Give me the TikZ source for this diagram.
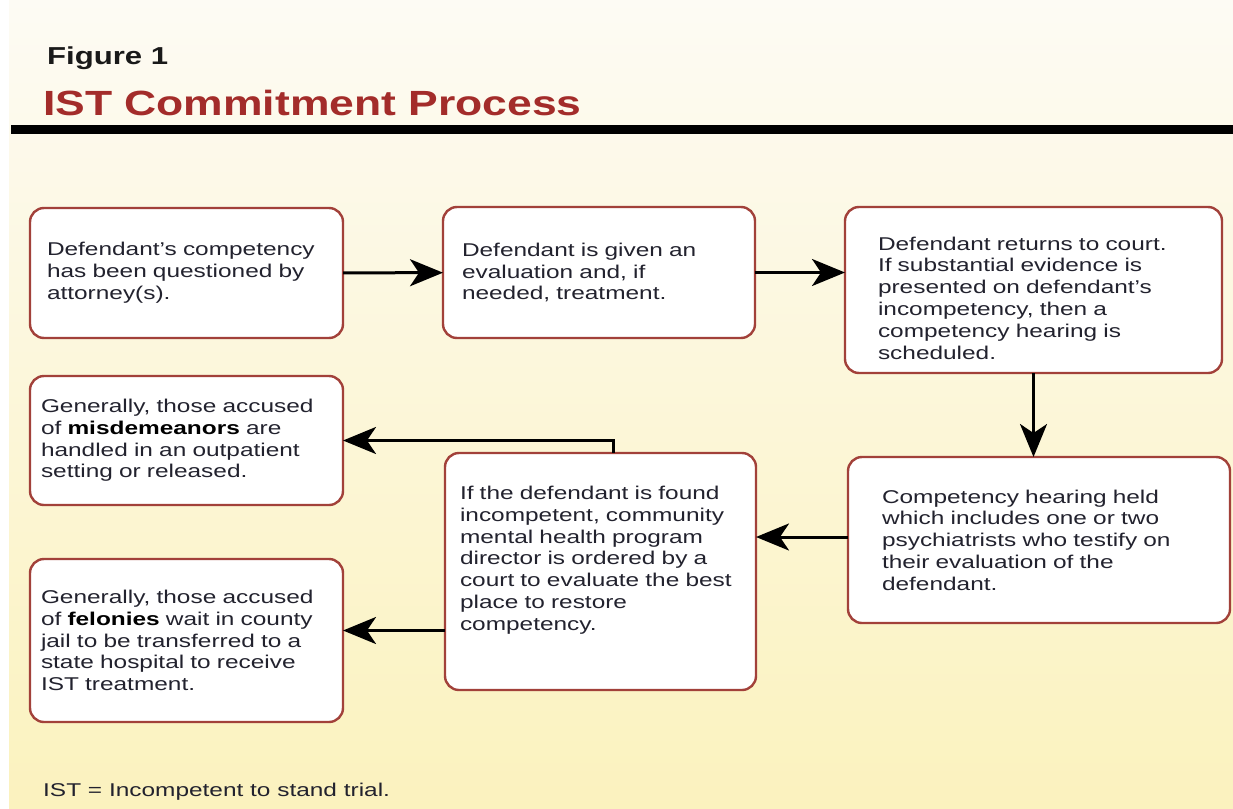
\documentclass[tikz,border=0pt]{standalone}
\usepackage{fontspec}
\setmainfont{Liberation Sans}[FakeStretch=1.32]
\newfontfamily\titulofont{Liberation Sans}[FakeStretch=1.27]
\usepackage{tikz}
\usetikzlibrary{arrows.meta}
\usepackage{xcolor}

\definecolor{borda}{HTML}{A2413A}
\definecolor{titulo}{HTML}{A32C2A}
\definecolor{texto}{HTML}{22222E}
\definecolor{fundotopo}{HTML}{FDFBF4}
\definecolor{fundobase}{HTML}{FBF2BE}

\tikzset{
  caixa/.style={draw=borda, line width=2.4pt, rounded corners=14pt, fill=white,
    anchor=north west, outer sep=0pt, inner ysep=0pt, align=left, text=texto,
    font=\fontsize{18.5}{21.8}\selectfont},
  seta/.style={-{Stealth[length=33pt,width=27pt,inset=9pt]}, line width=3pt},
}

\begin{document}
\begin{tikzpicture}[x=1pt, y=-1pt]
        \useasboundingbox (0,0) rectangle (1233,808);
        % Fundo
        \fill[white] (0,0) rectangle (1233,808);
        \shade[top color=fundotopo, bottom color=fundobase] (9,0) rectangle (1233,808);

        % Titulo
        \node[anchor=base west, inner sep=0pt, text=black!90,
          font=\titulofont\bfseries\fontsize{24.5}{28}\selectfont] (figura) at (47,64) {Figure 1};
        \node[anchor=base west, inner sep=0pt, text=titulo,
          font=\titulofont\bfseries\fontsize{35}{40}\selectfont] (titulo) at (43,115) {IST Commitment Process};
        \draw[line width=9pt] (11,129.5) -- (1233,129.5);

        % Primeira linha
        \node[caixa, text width=279pt, inner xsep=17pt, minimum height=130pt] (acusado) at (30,208)
          {Defendant's competency\\has been questioned by\\attorney(s).};
        \node[caixa, text width=274pt, inner xsep=19pt, minimum height=131pt] (avaliacao) at (443,207)
          {Defendant is given an\\evaluation and, if\\needed, treatment.};
        \node[caixa, text width=311pt, inner xsep=33pt, minimum height=166pt] (retorno) at (845,207)
          {\rule{0pt}{29.5pt}Defendant returns to court.\\If substantial evidence is\\presented on defendant's\\incompetency, then a\\competency hearing is\\scheduled.};

        % Segunda linha
        \node[caixa, text width=314pt, inner xsep=34pt, minimum height=166pt] (audiencia) at (848,457)
          {Competency hearing held\\which includes one or two\\psychiatrists who testify on\\their evaluation of the\\defendant.};
        \node[caixa, text width=281pt, inner xsep=15pt, minimum height=237pt] (diretor) at (445,453)
          {If the defendant is found\\incompetent, community\\mental health program\\director is ordered by a\\court to evaluate the best\\place to restore\\competency.\\[5pt]\mbox{}};
        \node[caixa, text width=291pt, inner xsep=11pt, minimum height=129pt] (contravencao) at (30,376)
          {Generally, those accused\\of {\bfseries\color{black}misdemeanors} are\\handled in an outpatient\\setting or released.};
        \node[caixa, text width=291pt, inner xsep=11pt, minimum height=163pt] (crimes) at (30,559)
          {Generally, those accused\\of {\bfseries\color{black}felonies} wait in county\\jail to be transferred to a\\state hospital to receive\\IST treatment.};

        % Setas
        \draw[seta] (acusado) -- (avaliacao);
        \draw[seta] (avaliacao.east) -- (avaliacao.east -| retorno.west);
        \draw[seta] (retorno.south) -- (retorno.south |- audiencia.north);
        \coordinate (saida) at ([yshift=3pt]audiencia.west);
        \draw[seta] (saida) -- (saida -| diretor.east);
        \draw[seta] ([xshift=12.5pt]diretor.north) |- (contravencao.east);
        \coordinate (entrada) at ([yshift=10pt]crimes.east);
        \draw[seta] (diretor.west |- entrada) -- (entrada);

        % Nota
        \node[anchor=base west, inner sep=0pt, text=texto, font=\fontsize{18.5}{21.8}\selectfont] (nota) at (43,796)
          {IST = Incompetent to stand trial.};
\end{tikzpicture}
\end{document}
